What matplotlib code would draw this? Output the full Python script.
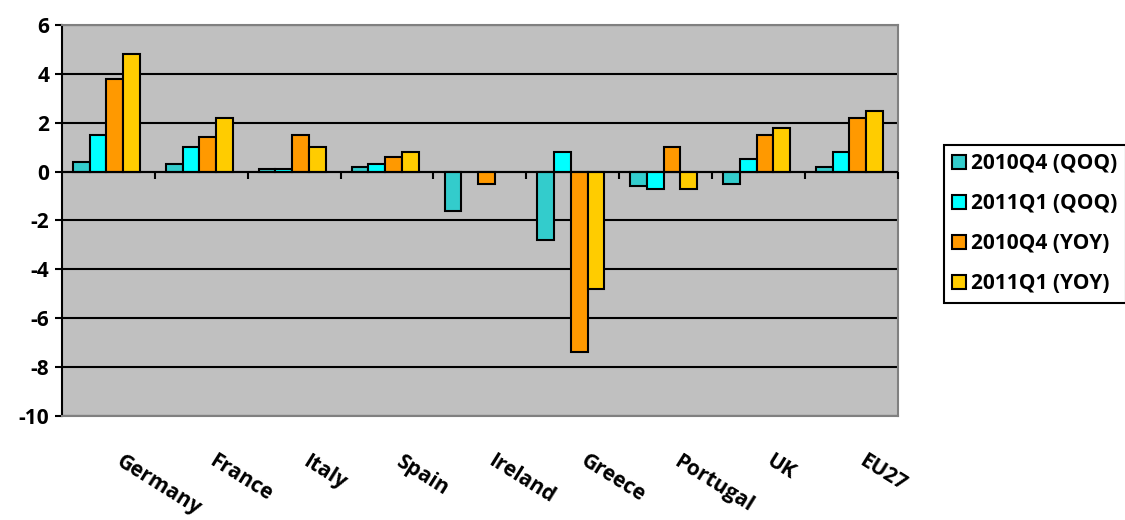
import matplotlib
matplotlib.use("Agg")
import matplotlib.pyplot as plt
import numpy as np

countries = ["Germany", "France", "Italy", "Spain", "Ireland", "Greece", "Portugal", "UK", "EU27"]
series_names = ["2010Q4 (QOQ)", "2011Q1 (QOQ)", "2010Q4 (YOY)", "2011Q1 (YOY)"]
qoq_2010q4 = [0.4, 0.3, 0.1, 0.2, -1.6, -2.8, -0.6, -0.5, 0.2]
qoq_2011q1 = [1.5, 1.0, 0.1, 0.3, np.nan, 0.8, -0.7, 0.5, 0.8]
yoy_2010q4 = [3.8, 1.4, 1.5, 0.6, -0.5, -7.4, 1.0, 1.5, 2.2]
yoy_2011q1 = [4.8, 2.2, 1.0, 0.8, np.nan, -4.8, -0.7, 1.8, 2.5]
colors = ["#33CCCC", "#00FFFF", "#FF9900", "#FFCC00"]

plt.rcParams['font.family'] = ['Open Sans', 'DejaVu Sans']
plt.rcParams['font.weight'] = 'bold'
plt.rcParams['axes.unicode_minus'] = False

fig = plt.figure(figsize=(11.25, 5.2), dpi=100)
ax = fig.add_axes([0.055, 0.2, 0.743, 0.752])
ax.set_facecolor("#C0C0C0")

x = np.arange(len(countries))
w = 0.18
all_series = [qoq_2010q4, qoq_2011q1, yoy_2010q4, yoy_2011q1]
for i, (vals, name, c) in enumerate(zip(all_series, series_names, colors)):
    ax.bar(x + (i - 1.5) * w - 0.02, vals, width=w, color=c, edgecolor="black",
           linewidth=1.5, label=name, zorder=3)

ax.set_ylim(-10, 6)
ax.set_xlim(-0.5, len(countries) - 0.5)
ax.set_yticks(range(-10, 7, 2))
ax.yaxis.grid(True, color="black", linewidth=1.5, zorder=1)
ax.axhline(0, color="black", linewidth=1.5, zorder=4)
# category divider ticks below the zero line
ax.vlines(x[:-1] + 0.5, -0.3, 0, color="black", linewidth=1.5, zorder=4)
ax.vlines([len(countries) - 0.5], -0.3, 0, color="black", linewidth=1.5, zorder=4, clip_on=False)

for s in ["top", "right", "bottom"]:
    ax.spines[s].set_color("#808080")
    ax.spines[s].set_linewidth(1.5)
ax.spines["left"].set_color("black")
ax.spines["left"].set_linewidth(1.5)

ax.tick_params(axis="y", length=5, width=1.5, labelsize=15, pad=4)
for t in ax.get_yticklabels():
    t.set_fontweight("bold")
ax.set_xticks(x + 0.17)
ax.set_xticklabels(countries, rotation=-32, ha="left", rotation_mode="anchor",
                   fontsize=15, fontweight="bold")
ax.tick_params(axis="x", length=0, pad=25)

leg = fig.legend(loc="upper left", bbox_to_anchor=(0.839, 0.722),
                 prop={"size": 15, "weight": "bold"},
                 frameon=True, fancybox=False, edgecolor="black", framealpha=1,
                 handlelength=0.65, handleheight=0.65, handletextpad=0.25,
                 labelspacing=0.92, borderpad=0.4, borderaxespad=0)
leg.get_frame().set_linewidth(1.5)

plt.savefig("out.png", dpi=100)
